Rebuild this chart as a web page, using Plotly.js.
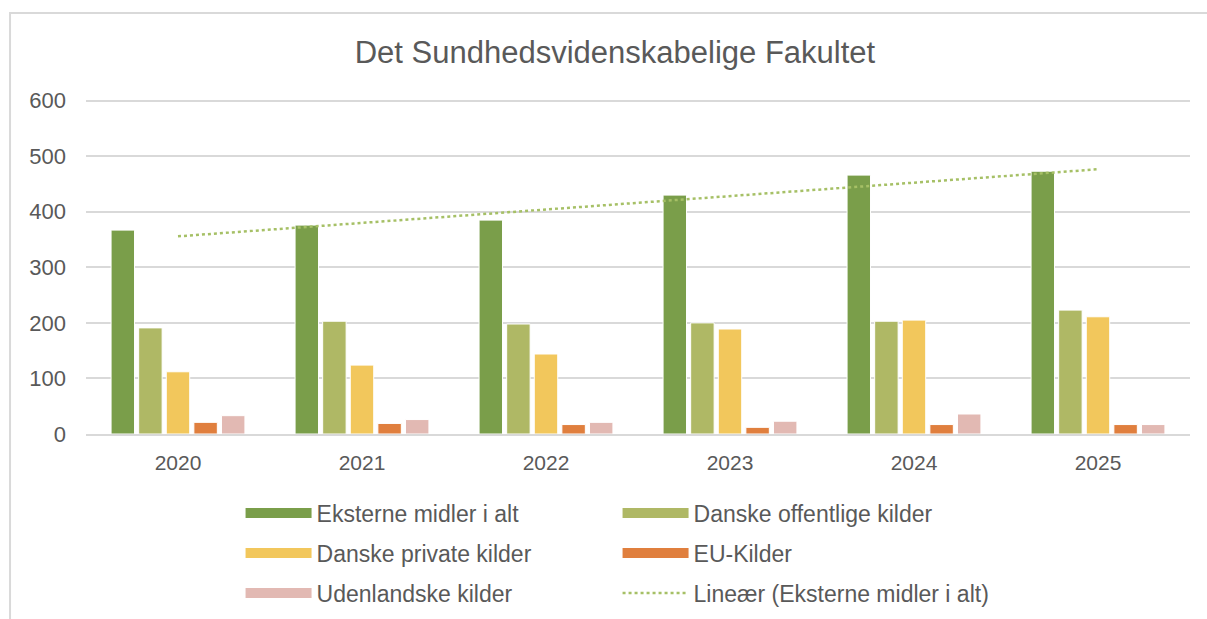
<!DOCTYPE html>
<html>
<head>
<meta charset="utf-8">
<script src="https://cdn.plot.ly/plotly-3.0.1.min.js"></script>
<style>html,body{margin:0;padding:0;background:#fff;}#chart{width:1207px;height:619px;}</style>
</head>
<body>
<div id="chart"></div>
<script>
const years = ['2020', '2021', '2022', '2023', '2024', '2025'];
const eksterne = [367, 376, 385, 430, 466, 473];
const danskeOffentlige = [191, 203, 198, 200, 203, 223];
const danskePrivate = [112, 124, 144, 189, 205, 211];
const euKilder = [21, 19, 17, 12, 17, 17];
const udenlandske = [33, 26, 21, 23, 36, 17];
const seriesNames = ['Eksterne midler i alt', 'Danske offentlige kilder', 'Danske private kilder', 'EU-Kilder', 'Udenlandske kilder'];
const trendName = 'Lineær (Eksterne midler i alt)';
const yTicks = [0, 100, 200, 300, 400, 500, 600];

const colors = ['#7a9e4a', '#afb865', '#f2c75c', '#e07f3e', '#e2b9b3'];
const trendColor = '#a6c066';
const seriesData = [eksterne, danskeOffentlige, danskePrivate, euKilder, udenlandske];
const legendIds = ['legend', 'legend', 'legend2', 'legend2', 'legend3'];

// Linear trend (least squares) of Eksterne midler i alt, as Excel's trendline
const n = eksterne.length;
const xs = eksterne.map((_, i) => i + 1);
const mx = xs.reduce((a, b) => a + b, 0) / n;
const my = eksterne.reduce((a, b) => a + b, 0) / n;
let sxy = 0, sxx = 0;
for (let i = 0; i < n; i++) { sxy += (xs[i] - mx) * (eksterne[i] - my); sxx += (xs[i] - mx) ** 2; }
const slope = sxy / sxx;
const icpt = my - slope * mx;
const trend = xs.map(x => icpt + slope * x);

const traces = [];
seriesData.forEach((vals, i) => {
  traces.push({
    type: 'bar', x: years, y: vals, name: seriesNames[i],
    marker: {color: colors[i], line: {color: '#ffffff', width: 1}},
    showlegend: false, hoverinfo: 'x+y+name'
  });
});
traces.push({
  type: 'scatter', mode: 'lines', x: years, y: trend, name: trendName,
  line: {color: trendColor, width: 2.5, dash: 'dot'}, showlegend: false
});
// legend entries (proxies so the symbols are wide rectangles as in the original)
seriesData.forEach((vals, i) => {
  traces.push({
    type: 'scatter', mode: 'lines', x: [null], y: [null], name: seriesNames[i],
    line: {color: colors[i], width: 12}, legend: legendIds[i], hoverinfo: 'skip'
  });
});
traces.push({
  type: 'scatter', mode: 'lines', x: [null], y: [null], name: trendName,
  line: {color: trendColor, width: 2.5, dash: 'dot'}, legend: 'legend3', hoverinfo: 'skip'
});

const fam = 'Liberation Sans, Arial, sans-serif';
const legendBase = {
  orientation: 'h', xanchor: 'left', yanchor: 'middle', x: 0.14,
  yref: 'container',
  entrywidth: 296, entrywidthmode: 'pixels', itemwidth: 66,
  font: {family: fam, color: '#595959', size: 23},
  bgcolor: 'rgba(0,0,0,0)', traceorder: 'normal', itemclick: false, itemdoubleclick: false
};

const layout = {
  width: 1207, height: 619,
  margin: {l: 86, r: 17, t: 99, b: 185, autoexpand: false},
  paper_bgcolor: '#ffffff', plot_bgcolor: '#ffffff',
  font: {family: fam, color: '#595959'},
  title: {text: 'Det Sundhedsvidenskabelige Fakultet', font: {family: fam, size: 31, color: '#595959'},
          x: 0.5095, xref: 'container', xanchor: 'center', y: 0.916, yref: 'container', yanchor: 'middle'},
  barmode: 'group', bargap: 0.25, bargroupgap: 0.15,
  xaxis: {type: 'category', tickfont: {size: 21, color: '#595959'}, showgrid: false,
          showline: true, linecolor: '#d9d9d9', linewidth: 1.5, ticks: '', ticklabelstandoff: 9, fixedrange: true},
  yaxis: {range: [0, 603], tickvals: yTicks, tickfont: {size: 22, color: '#595959'},
          showgrid: true, gridcolor: '#d9d9d9', gridwidth: 1.5, zeroline: false, ticks: '', ticklabelstandoff: 19, fixedrange: true},
  legend: Object.assign({}, legendBase, {y: 0.171}),
  legend2: Object.assign({}, legendBase, {y: 0.1066}),
  legend3: Object.assign({}, legendBase, {y: 0.042}),
  shapes: [{type: 'rect', xref: 'paper', yref: 'paper', x0: -0.0688, x1: 1.06, y0: -0.7, y1: 1.2567,
            line: {color: '#d9d9d9', width: 2}, fillcolor: 'rgba(0,0,0,0)', layer: 'below'}]
};

Plotly.newPlot('chart', traces, layout, {displayModeBar: false});
</script>
</body>
</html>
